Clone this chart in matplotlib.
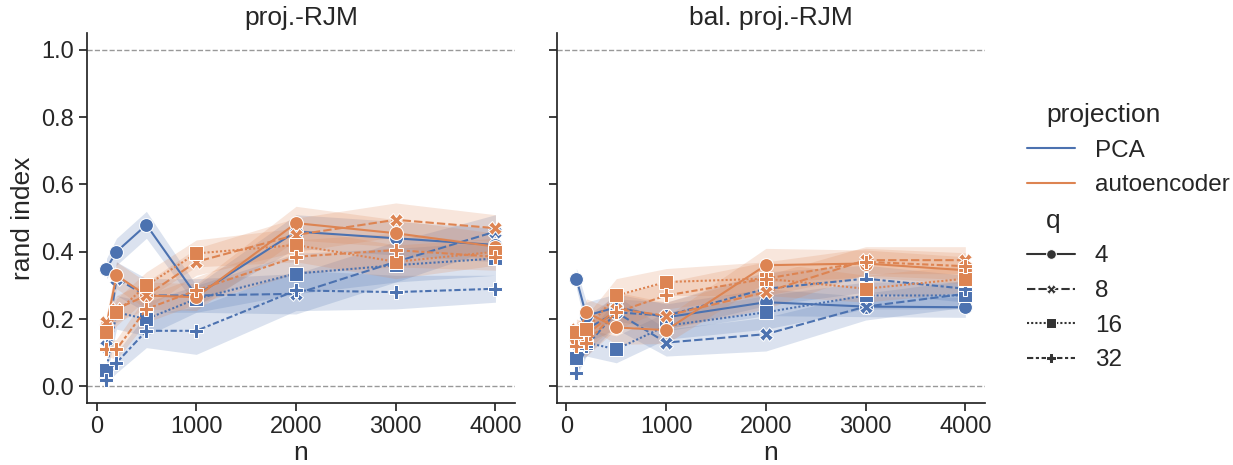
import numpy as np
import matplotlib.pyplot as plt
from matplotlib.lines import Line2D
import seaborn as sns

#------------------------------------------------------------------------------
# Resultados (média e meia-largura do intervalo de confiança)
#------------------------------------------------------------------------------
n = [100, 200, 500, 1000, 2000, 3000, 4000]
q_levels = ['4', '8', '16', '32']
projections = ['PCA', 'autoencoder']
titles = ['proj.-RJM', 'bal. proj.-RJM']

# proj.-RJM
rjm_pca = [[0.35, 0.40, 0.48, 0.27, 0.46, 0.44, 0.42],
           [0.12, 0.32, 0.27, 0.27, 0.275, 0.37, 0.46],
           [0.05, 0.22, 0.20, 0.26, 0.335, 0.36, 0.38],
           [0.02, 0.07, 0.165, 0.165, 0.285, 0.28, 0.29]]
rjm_pca_ci = [[0.03, 0.04, 0.04, 0.03, 0.05, 0.05, 0.05],
              [0.03, 0.05, 0.05, 0.05, 0.06, 0.06, 0.05],
              [0.02, 0.05, 0.05, 0.04, 0.06, 0.05, 0.05],
              [0.01, 0.03, 0.05, 0.07, 0.06, 0.05, 0.04]]
rjm_ae = [[0.18, 0.33, 0.27, 0.265, 0.485, 0.455, 0.415],
          [0.19, 0.23, 0.27, 0.37, 0.45, 0.495, 0.47],
          [0.16, 0.22, 0.30, 0.395, 0.42, 0.37, 0.40],
          [0.11, 0.11, 0.23, 0.285, 0.385, 0.405, 0.385]]
rjm_ae_ci = [[0.03, 0.04, 0.04, 0.04, 0.05, 0.04, 0.04],
             [0.03, 0.04, 0.04, 0.04, 0.05, 0.05, 0.04],
             [0.03, 0.04, 0.04, 0.04, 0.05, 0.05, 0.04],
             [0.02, 0.03, 0.04, 0.04, 0.05, 0.05, 0.04]]

# bal. proj.-RJM
bal_pca = [[0.32, 0.21, 0.235, 0.205, 0.25, 0.237, 0.235],
           [0.13, 0.17, 0.22, 0.13, 0.155, 0.237, 0.275],
           [0.085, 0.13, 0.11, 0.18, 0.22, 0.27, 0.27],
           [0.04, 0.12, 0.22, 0.21, 0.29, 0.32, 0.29]]
bal_pca_ci = [[0.03, 0.04, 0.04, 0.04, 0.04, 0.03, 0.03],
              [0.03, 0.04, 0.05, 0.04, 0.05, 0.04, 0.04],
              [0.02, 0.04, 0.04, 0.04, 0.05, 0.04, 0.04],
              [0.01, 0.03, 0.04, 0.04, 0.05, 0.04, 0.04]]
bal_ae = [[0.14, 0.22, 0.175, 0.167, 0.36, 0.365, 0.345],
          [0.17, 0.15, 0.23, 0.21, 0.28, 0.375, 0.375],
          [0.16, 0.17, 0.27, 0.31, 0.32, 0.29, 0.32],
          [0.12, 0.13, 0.22, 0.27, 0.32, 0.37, 0.357]]
bal_ae_ci = [[0.03, 0.04, 0.05, 0.04, 0.05, 0.04, 0.04],
             [0.03, 0.04, 0.05, 0.04, 0.05, 0.04, 0.04],
             [0.03, 0.04, 0.05, 0.04, 0.05, 0.04, 0.04],
             [0.03, 0.04, 0.05, 0.04, 0.05, 0.04, 0.04]]

#------------------------------------------------------------------------------
# Estilo
#------------------------------------------------------------------------------
sns.set_theme(style='ticks', font_scale=1.55)
plt.rcParams['font.family'] = ['Liberation Sans', 'DejaVu Sans']
plt.rcParams['axes.titlesize'] = 19
plt.rcParams['axes.labelsize'] = 19
plt.rcParams['legend.fontsize'] = 17.5
plt.rcParams['legend.title_fontsize'] = 19

cores = sns.color_palette('deep')[:2]
marcadores = ['o', 'X', 's', 'P']
tracos = ['', (4, 1.5), (1, 1), (3, 1.25, 1.5, 1.25)]

#------------------------------------------------------------------------------
# Figura
#------------------------------------------------------------------------------
fig = plt.figure(figsize=(12.33, 4.65), dpi=100)
ax1 = fig.add_axes([0.0706, 0.133, 0.347, 0.796])
ax2 = fig.add_axes([0.4517, 0.133, 0.347, 0.796], sharey=ax1)

paineis = [(ax1, [rjm_pca, rjm_ae], [rjm_pca_ci, rjm_ae_ci]),
           (ax2, [bal_pca, bal_ae], [bal_pca_ci, bal_ae_ci])]

for (ax, medias, ics), titulo in zip(paineis, titles):
    ax.axhline(0, color='0.6', ls='--', lw=1, zorder=0)
    ax.axhline(1, color='0.6', ls='--', lw=1, zorder=0)
    for k in range(2):
        for j in range(4):
            m = np.array(medias[k][j])
            e = np.array(ics[k][j])
            ln, = ax.plot(n, m, color=cores[k], marker=marcadores[j],
                          markersize=10, markeredgecolor='w',
                          markeredgewidth=0.75, lw=1.5)
            if tracos[j]:
                ln.set_dashes(tracos[j])
            ax.fill_between(n, m - e, m + e, color=cores[k], alpha=0.2,
                            linewidth=0)
    ax.set_title(titulo)
    ax.set_xlabel('n', labelpad=2)
    ax.set_xlim(-95, 4195)
    ax.set_xticks([0, 1000, 2000, 3000, 4000])
    sns.despine(ax=ax)

ax1.set_ylim(-0.05, 1.05)
ax1.set_yticks([0.0, 0.2, 0.4, 0.6, 0.8, 1.0])
ax1.set_ylabel('rand index')
plt.setp(ax2.get_yticklabels(), visible=False)

#------------------------------------------------------------------------------
# Legenda
#------------------------------------------------------------------------------
vazio = Line2D([], [], visible=False)
handles = [vazio]
labels = ['projection']
for k in range(2):
    handles.append(Line2D([], [], color=cores[k], lw=1.5))
    labels.append(projections[k])
handles.append(Line2D([], [], visible=False))
labels.append('q')
for j in range(4):
    h = Line2D([], [], color='.2', lw=1.5, marker=marcadores[j],
               markersize=7, markeredgecolor='w', markeredgewidth=0.75)
    if tracos[j]:
        h.set_dashes(tracos[j])
    handles.append(h)
    labels.append(q_levels[j])

leg = fig.legend(handles, labels, loc='center left', frameon=False,
                 bbox_to_anchor=(0.815, 0.49), labelspacing=0.52,
                 handlelength=2.0)

# subtitulos alinhados a esquerda, sem marcador e com fonte maior
fs_sub = plt.rcParams['legend.title_fontsize']
for hpack in leg.findobj(plt.matplotlib.offsetbox.VPacker)[0].get_children():
    area, texto = hpack.get_children()
    if not all(a.get_visible() for a in area.get_children()):
        area.set_width(0)
        for t in texto.get_children():
            t.set_size(fs_sub)

fig.savefig('out.png', dpi=100)
